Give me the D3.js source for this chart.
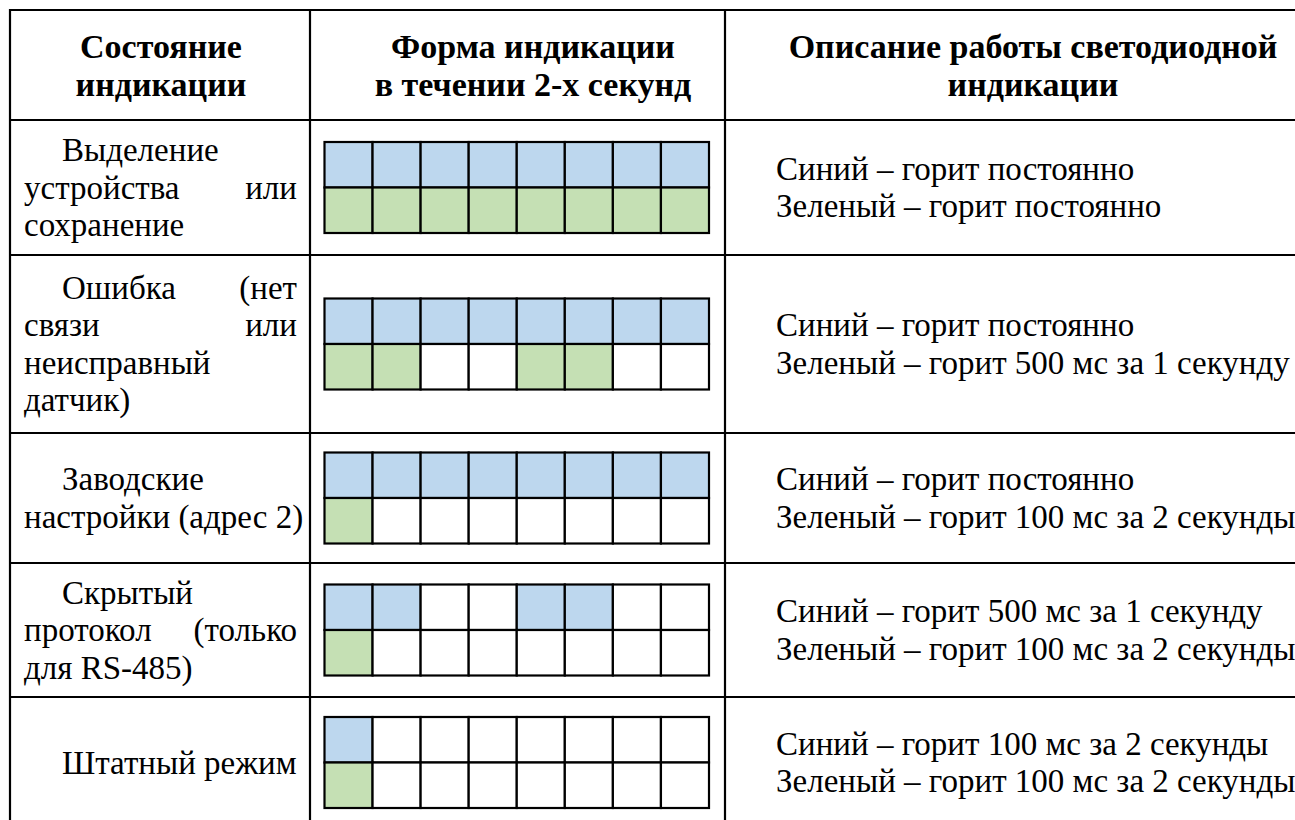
<!DOCTYPE html>
<html>
<head>
<meta charset="utf-8">
<script src="https://cdn.jsdelivr.net/npm/d3@7"></script>
<style>
  body { margin: 0; background: #fff; }
  svg { display: block; }
</style>
</head>
<body>
<div id="table"></div>
<script>
var headers = [
  ["Состояние", "индикации"],
  ["Форма индикации", "в течении 2-х секунд"],
  ["Описание работы светодиодной", "индикации"]
]

// state column, as the lines appear in the cell
var states = [
  ["Выделение", "устройства или", "сохранение"],
  ["Ошибка (нет", "связи или", "неисправный", "датчик)"],
  ["Заводские", "настройки (адрес 2)"],
  ["Скрытый", "протокол (только", "для RS-485)"],
  ["Штатный режим"]
]

// 8 slots of 250 ms in 2 seconds, 1 = led on
var blueOn = [
  [1, 1, 1, 1, 1, 1, 1, 1],
  [1, 1, 1, 1, 1, 1, 1, 1],
  [1, 1, 1, 1, 1, 1, 1, 1],
  [1, 1, 0, 0, 1, 1, 0, 0],
  [1, 0, 0, 0, 0, 0, 0, 0]
]
var greenOn = [
  [1, 1, 1, 1, 1, 1, 1, 1],
  [1, 1, 0, 0, 1, 1, 0, 0],
  [1, 0, 0, 0, 0, 0, 0, 0],
  [1, 0, 0, 0, 0, 0, 0, 0],
  [1, 0, 0, 0, 0, 0, 0, 0]
]

var descriptions = [
  ["Синий – горит постоянно", "Зеленый – горит постоянно"],
  ["Синий – горит постоянно", "Зеленый – горит 500 мс за 1 секунду"],
  ["Синий – горит постоянно", "Зеленый – горит 100 мс за 2 секунды"],
  ["Синий – горит 500 мс за 1 секунду", "Зеленый – горит 100 мс за 2 секунды"],
  ["Синий – горит 100 мс за 2 секунды", "Зеленый – горит 100 мс за 2 секунды"]
]

var width = 1295, height = 820
var colEdges = [10, 310, 725, 1340]
var rowEdges = [10, 120, 255, 433, 563, 697, 828]
var fontSize = 33, headSize = 34, lineH = 37.5
var font = "'Liberation Serif', serif"
var colors = { blue: "#BDD7EE", green: "#C5E0B4", off: "#ffffff" }

var svg = d3.select("#table").append("svg")
  .attr("width", width)
  .attr("height", height)

svg.append("rect").attr("width", width).attr("height", height).attr("fill", "#fff")

// header
var hdr = svg.append("g").attr("class", "header")
var hdrCenters = [161, 533, 1033]
headers.forEach(function(lines, i) {
  var mid = (rowEdges[0] + rowEdges[1]) / 2
  lines.forEach(function(t, j) {
    hdr.append("text")
      .attr("x", hdrCenters[i])
      .attr("y", mid + (j - (lines.length - 1) / 2) * 38 + 12)
      .attr("text-anchor", "middle")
      .style("font-family", font)
      .style("font-weight", "bold")
      .style("font-size", headSize + "px")
      .text(t)
  })
})

var body = svg.append("g").attr("class", "rows")

// state cells, justified like in the document
var textLeft = 24, textRight = 297, indent = 38
states.forEach(function(lines, i) {
  var mid = (rowEdges[i + 1] + rowEdges[i + 2]) / 2
  lines.forEach(function(line, j) {
    var y = mid + (j - (lines.length - 1) / 2) * lineH + 11
    var x0 = j === 0 ? textLeft + indent : textLeft
    var words = line.split(" ")
    var justify = j < lines.length - 1 && words.length > 1
    if (!justify) {
      body.append("text")
        .attr("x", x0).attr("y", y)
        .style("font-family", font)
        .style("font-size", fontSize + "px")
        .text(line)
      return
    }
    var nodes = words.map(function(w) {
      return body.append("text")
        .attr("y", y)
        .style("font-family", font)
        .style("font-size", fontSize + "px")
        .text(w)
    })
    var lens = nodes.map(function(n) { return n.node().getComputedTextLength() })
    var gap = (textRight - x0 - d3.sum(lens)) / (words.length - 1)
    var x = x0
    nodes.forEach(function(n, k) {
      n.attr("x", x)
      x += lens[k] + gap
    })
  })
})

// led pattern grids
var slot = d3.scaleBand()
  .domain(d3.range(8))
  .range([324.5, 709])

var led = d3.scaleBand()
  .domain(["blue", "green"])
  .range([0, 91])

var cells = []
blueOn.forEach(function(row, i) {
  row.forEach(function(v, k) { cells.push({ row: i, slot: k, led: "blue", on: v }) })
  greenOn[i].forEach(function(v, k) { cells.push({ row: i, slot: k, led: "green", on: v }) })
})

body.selectAll(".cell")
  .data(cells)
  .enter()
  .append("rect")
  .attr("class", "cell")
  .attr("x", function(d) { return slot(d.slot) })
  .attr("y", function(d) {
    var mid = (rowEdges[d.row + 1] + rowEdges[d.row + 2]) / 2
    return mid - 45.5 + led(d.led)
  })
  .attr("width", slot.bandwidth())
  .attr("height", led.bandwidth())
  .attr("fill", function(d) { return d.on ? colors[d.led] : colors.off })
  .attr("stroke", "#000")
  .attr("stroke-width", 2.2)

// descriptions
descriptions.forEach(function(lines, i) {
  var mid = (rowEdges[i + 1] + rowEdges[i + 2]) / 2
  lines.forEach(function(t, j) {
    body.append("text")
      .attr("x", 776)
      .attr("y", mid + (j - (lines.length - 1) / 2) * lineH + 11)
      .style("font-family", font)
      .style("font-size", fontSize + "px")
      .text(t)
  })
})

// table rules
var rules = svg.append("g").attr("class", "rules")
rules.selectAll(".h")
  .data(rowEdges.slice(0, -1))
  .enter()
  .append("line")
  .attr("x1", colEdges[0] - 1).attr("x2", width)
  .attr("y1", function(d) { return d }).attr("y2", function(d) { return d })
  .attr("stroke", "#000")
  .attr("stroke-width", 2.2)

rules.selectAll(".v")
  .data(colEdges.slice(0, 3))
  .enter()
  .append("line")
  .attr("x1", function(d) { return d }).attr("x2", function(d) { return d })
  .attr("y1", rowEdges[0] - 1).attr("y2", height)
  .attr("stroke", "#000")
  .attr("stroke-width", 2.2)
</script>
</body>
</html>
